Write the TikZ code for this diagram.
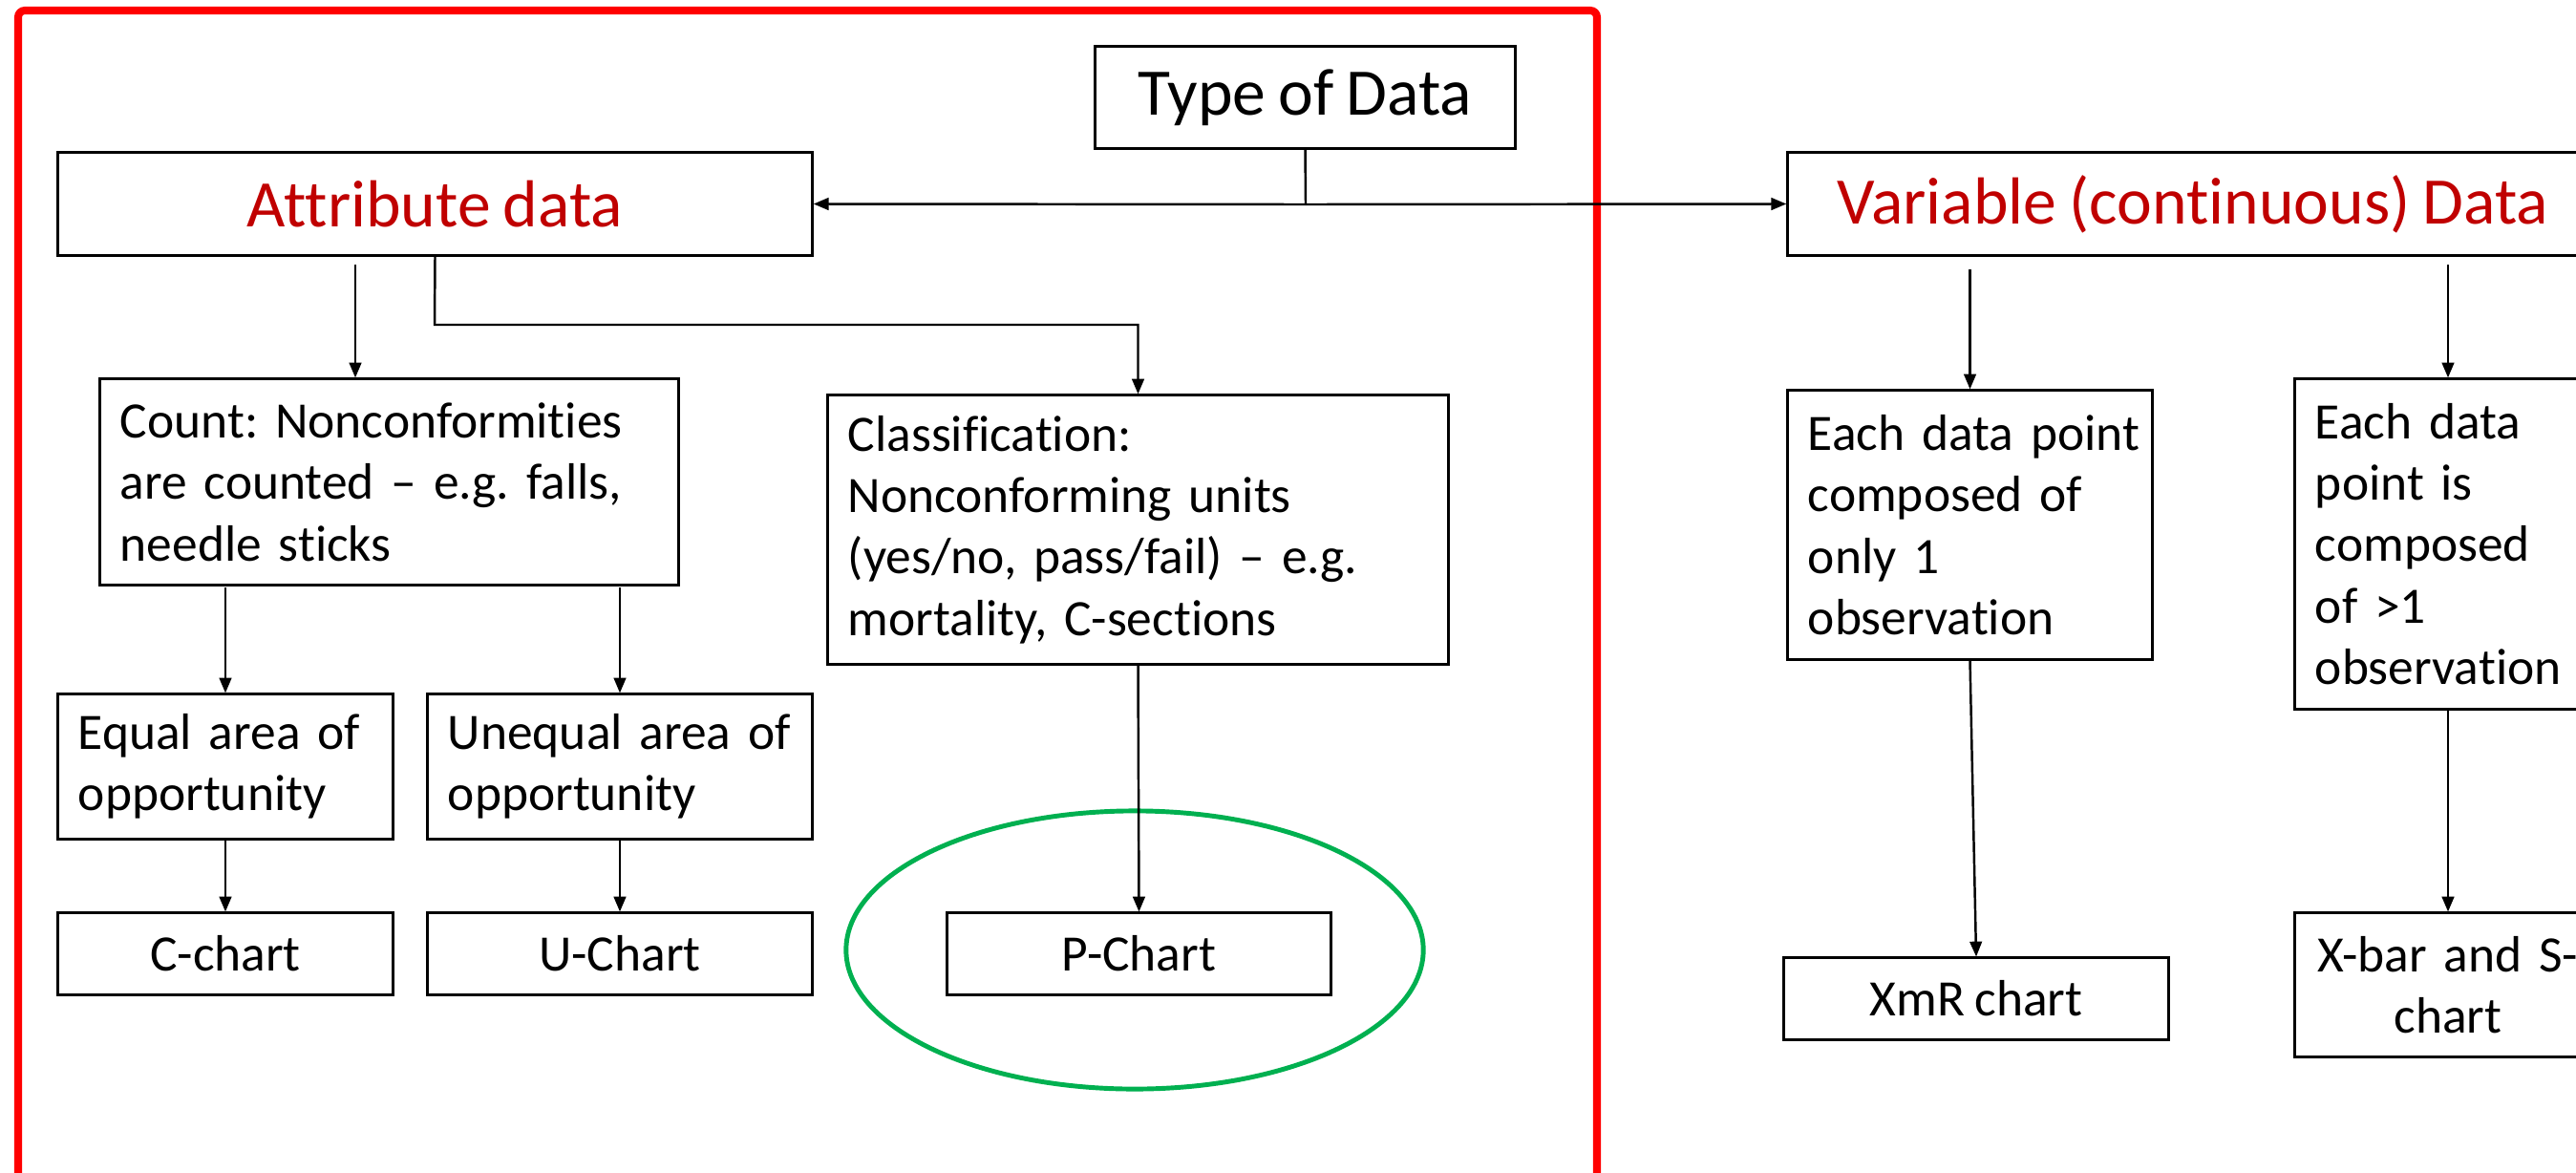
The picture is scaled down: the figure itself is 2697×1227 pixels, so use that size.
\documentclass[tikz,border=0pt]{standalone}
\usepackage{fontspec}
\setmainfont{Carlito}[WordSpace=0.85,Ligatures={NoCommon}]
\usetikzlibrary{arrows.meta,shapes.geometric}
\definecolor{titlered}{RGB}{192,0,0}
\definecolor{circgreen}{RGB}{0,176,80}
\definecolor{framered}{RGB}{255,0,0}
\begin{document}
\frenchspacing
\begin{tikzpicture}[x=0.01cm,y=-0.01cm,
  box/.style={draw=black,line width=0.85pt,rectangle,inner xsep=0.21cm,inner ysep=0pt,
    font=\fontsize{15.2}{18.3}\selectfont\frenchspacing},
  tbox/.style={box,align=left},
  cbox/.style={box,align=center},
  bigbox/.style={box,font=\fontsize{19.8}{24}\selectfont},
  conn/.style={line width=0.7pt,-{Triangle[length=4.5pt,width=3.6pt]}},
  plainline/.style={line width=0.7pt}]
\useasboundingbox (0,0) rectangle (2697,1227);
\clip (0,0) rectangle (2697,1227);
\fill[white] (0,0) rectangle (2697,1227);

% red frame
\draw[framered,line width=2.3pt,rounded corners=2pt] (19,1260) -- (19,11) -- (1672,11) -- (1672,1260);

% green ellipse
\node[ellipse,draw=circgreen,line width=1.4pt,minimum width=6.04cm,minimum height=2.91cm,inner sep=0pt] (ring) at (1188,994.5) {};

% top level
\node[bigbox,minimum width=4.39cm,minimum height=1.06cm] (tod) at (1366.5,102) {Type of Data};
\node[bigbox,text=titlered,minimum width=7.89cm,minimum height=1.07cm] (attr) at (455.5,213.5) {Attribute data};
\node[bigbox,text=titlered,minimum width=8.48cm,minimum height=1.07cm] (var) at (2296,213.5) {Variable (continuous) Data};

% attribute branch
\node[tbox,text width=5.63cm,minimum height=2.15cm] (count) at (407.5,504.5)
  {\mbox{Count: Nonconformities}\\\mbox{are counted – e.g. falls,}\\needle sticks};
\node[tbox,text width=6.07cm,minimum height=2.81cm] (cls) at (1191.5,554.5)
  {Classification:\\Nonconforming units\\\mbox{(yes/no, pass/fail) – e.g.}\\mortality, C-sections};
\node[tbox,text width=3.08cm,minimum height=1.51cm] (eq) at (236,802.5)
  {\mbox{Equal area of}\\opportunity};
\node[tbox,text width=3.60cm,minimum height=1.51cm] (uneq) at (649,802.5)
  {\mbox{Unequal area of}\\opportunity};
\node[cbox,minimum width=3.50cm,minimum height=0.85cm] (cch) at (236,998.5) {C-chart};
\node[cbox,minimum width=4.02cm,minimum height=0.85cm] (uch) at (649,998.5) {U-Chart};
\node[cbox,minimum width=4.01cm,minimum height=0.85cm] (pch) at (1192.5,998.5) {P-Chart};

% variable branch
\node[tbox,text width=3.39cm,minimum height=2.81cm] (e1) at (2062.5,549.5)
  {\mbox{Each data point}\\composed of\\only 1\\observation};
\node[tbox,text width=2.78cm,minimum height=3.45cm] (e2) at (2563,569.5)
  {Each data\\point is\\composed\\of >1\\\mbox{observation}};
\node[cbox,minimum width=4.02cm,minimum height=0.85cm] (xmr) at (2069,1045.5) {XmR chart};
\node[cbox,text width=2.78cm,minimum height=1.50cm] (xbar) at (2563,1031)
  {\mbox{X-bar and S-}\\chart};

% connectors
\coordinate (junc) at (1367,214);
\draw[plainline] (tod.south) -- (junc);
\draw[conn] (junc) -- (attr.east);
\draw[conn] (junc) -- (var.west);

\coordinate (a1) at (372,277);
\draw[conn] (a1) -- (a1 |- count.north);
\coordinate (a2) at (455,340);
\draw[conn] (attr.south) -- (a2) -- (a2 -| cls.north) -- (cls.north);

\coordinate (c1) at (236,615);
\coordinate (c2) at (649,615);
\draw[conn] (c1) -- (eq.north);
\draw[conn] (c2) -- (uneq.north);
\draw[conn] (eq.south) -- (cch.north);
\draw[conn] (uneq.south) -- (uch.north);
\draw[conn] (cls.south) -- (pch.north);

\coordinate (v1) at (2062.5,282);
\coordinate (v2) at (2563,277);
\draw[conn] (v1) -- (e1.north);
\draw[conn] (v2) -- (e2.north);
\draw[conn] (e1.south) -- (xmr.north);
\draw[conn] (e2.south) -- (xbar.north);
\end{tikzpicture}
\end{document}
